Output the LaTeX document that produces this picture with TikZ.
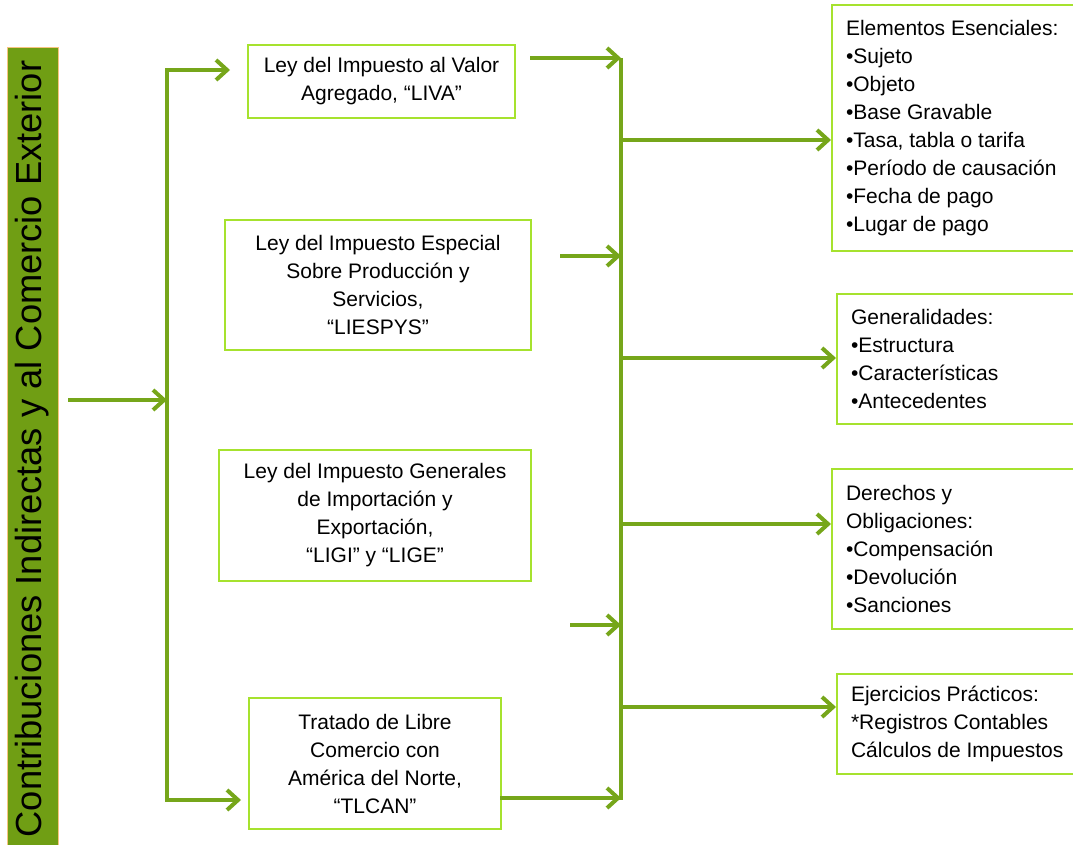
\documentclass[tikz,border=0pt]{standalone}
\usepackage{fontspec}
\setmainfont{Liberation Sans}
\usetikzlibrary{arrows.meta}
\definecolor{barra}{RGB}{112,158,20}
\definecolor{flecha}{RGB}{118,166,26}
\definecolor{borde}{RGB}{166,226,46}
\definecolor{naranja}{RGB}{247,196,128}
\begin{document}
\begin{tikzpicture}[x=1pt,y=-1pt,
   ley/.style={draw=borde,line width=2pt,anchor=north west,inner sep=0pt,align=flush center,font=\fontsize{21}{28}\selectfont},
   lista/.style={draw=borde,line width=2pt,anchor=north west,inner xsep=14pt,inner ysep=0pt,align=flush left,font=\fontsize{21}{28}\selectfont},
   linea/.style={draw=flecha,line width=4pt},
   flecha/.style={linea,-{Straight Barb[length=11pt,width=20pt]}}]
   \useasboundingbox (0,0) rectangle (1073,845);
   % barra lateral
   \node (barra) [rotate=90,fill=barra,draw=naranja,line width=1pt,minimum width=802,minimum height=51,inner sep=0pt,
      font=\fontsize{36.3}{40}\selectfont] at (32.5,449) {Contribuciones Indirectas y al Comercio Exterior};
   % leyes
   \node (liva) [ley,minimum width=267,minimum height=73] at (247,44) {Ley del Impuesto al Valor\\Agregado, “LIVA”};
   \node (ieps) [ley,minimum width=306,minimum height=130] at (224,219) {Ley del Impuesto Especial\\Sobre Producción y\\Servicios,\\“LIESPYS”};
   \node (ligi) [ley,minimum width=312,minimum height=131] at (218,449) {Ley del Impuesto Generales\\de Importación y\\Exportación,\\“LIGI” y “LIGE”};
   \node (tlcan) [ley,minimum width=252,minimum height=131] at (248,697) {Tratado de Libre\\Comercio con\\América del Norte,\\“TLCAN”};
   % temas
   \node (elem) [lista,text width=221,minimum height=246] at (831,4) {Elementos Esenciales:\\•Sujeto\\•Objeto\\•Base Gravable\\•Tasa, tabla o tarifa\\•Período de causación\\•Fecha de pago\\•Lugar de pago};
   \node (gen) [lista,text width=216,minimum height=130] at (836,293) {Generalidades:\\•Estructura\\•Características\\•Antecedentes};
   \node (der) [lista,text width=221,minimum height=160] at (831,468) {Derechos y\\Obligaciones:\\•Compensación\\•Devolución\\•Sanciones};
   \node (ejer) [lista,text width=216,minimum height=100] at (836,673) {Ejercicios Prácticos:\\{}*Registros Contables\\Cálculos de Impuestos};
   % puntos de las flechas
   \coordinate (e0) at (68,400);
   \coordinate (n0) at (167,400);
   \coordinate (p1) at (230,70);
   \coordinate (p4) at (241,800);
   \coordinate (s1) at (530,58);
   \coordinate (s2) at (560,256);
   \coordinate (s3) at (570,625);
   \coordinate (s4) at (500,798);
   \coordinate (m1) at (621,58);
   \coordinate (m4) at (621,800);
   \coordinate (t1) at (831,140);
   \coordinate (t2) at (836,358);
   \coordinate (t3) at (831,524);
   \coordinate (t4) at (836,707);
   % izquierda
   \draw[flecha] (e0) -- (n0);
   \draw[flecha] (n0) |- (p1);
   \draw[flecha] (n0) |- (p4);
   % derecha
   \draw[linea] (m1) -- (m4);
   \foreach \s in {s1,s2,s3,s4}
      \draw[flecha] (\s) -- (\s -| m1);
   \foreach \t in {t1,t2,t3,t4}
      \draw[flecha] (m1 |- \t) -- (\t);
\end{tikzpicture}
\end{document}
